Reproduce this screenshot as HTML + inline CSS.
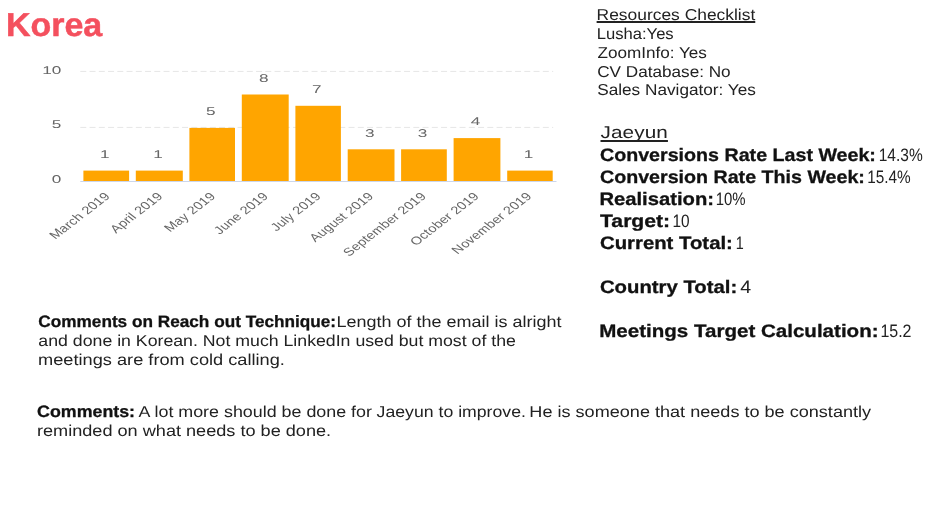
<!DOCTYPE html>
<html lang="en">
<head>
<meta charset="utf-8">
<title>Korea</title>
<style>
html,body{margin:0;padding:0;background:#fff}
#page{position:relative;width:949px;height:519px;overflow:hidden;background:#fff;font-family:"Liberation Sans", sans-serif;color:#111}
#page h1,#page figure,#page section,#page p{margin:0;padding:0;font-weight:400}
.t{position:absolute;left:0;top:0;white-space:pre;line-height:1;transform-origin:0 0;text-rendering:geometricPrecision}
.b{font-weight:700;-webkit-text-stroke:0.3px #111}
.r{color:#222}
.u{text-decoration:underline;text-decoration-thickness:1.6px;text-decoration-skip-ink:none}
</style>
</head>
<body>
<div id="page">
<header>
<h1 class="t" style="transform:translate(5.88px,8px) scaleX(1.0295);font-size:33px;font-weight:700;color:#F4505E;-webkit-text-stroke:0.5px #F4505E">Korea</h1>
</header>
<figure id="chart">
<svg style="position:absolute;left:0;top:55px" width="590" height="215" viewBox="0 55 590 215" font-family='"Liberation Sans", sans-serif' text-rendering="geometricPrecision">
<line x1="80.3" x2="553.2" y1="71.4" y2="71.4" stroke="#e6e6e6" stroke-width="1" stroke-dasharray="6 3.25"/>
<line x1="80.3" x2="553.2" y1="127.4" y2="127.4" stroke="#e6e6e6" stroke-width="1" stroke-dasharray="6 3.25"/>
<rect x="83.4" y="170.6" width="45.7" height="10.7" fill="#FFA500"/>
<rect x="135.8" y="170.6" width="47.0" height="10.7" fill="#FFA500"/>
<rect x="189.4" y="127.9" width="45.6" height="53.4" fill="#FFA500"/>
<rect x="241.8" y="94.5" width="46.9" height="86.8" fill="#FFA500"/>
<rect x="295.4" y="105.8" width="45.5" height="75.5" fill="#FFA500"/>
<rect x="347.7" y="149.3" width="46.8" height="32.0" fill="#FFA500"/>
<rect x="401.1" y="149.3" width="45.7" height="32.0" fill="#FFA500"/>
<rect x="453.6" y="138.1" width="46.8" height="43.2" fill="#FFA500"/>
<rect x="507.2" y="170.6" width="45.5" height="10.7" fill="#FFA500"/>
<line x1="80.3" x2="556.5" y1="181.5" y2="181.5" stroke="#ccd6eb" stroke-width="1"/>
<text transform="translate(104.85 157.90) scale(1.52 1)" text-anchor="middle" font-size="11.3" fill="#666">1</text>
<text transform="translate(157.90 157.90) scale(1.52 1)" text-anchor="middle" font-size="11.3" fill="#666">1</text>
<text transform="translate(210.80 115.20) scale(1.52 1)" text-anchor="middle" font-size="11.3" fill="#666">5</text>
<text transform="translate(263.85 81.80) scale(1.52 1)" text-anchor="middle" font-size="11.3" fill="#666">8</text>
<text transform="translate(316.75 93.10) scale(1.52 1)" text-anchor="middle" font-size="11.3" fill="#666">7</text>
<text transform="translate(369.70 136.60) scale(1.52 1)" text-anchor="middle" font-size="11.3" fill="#666">3</text>
<text transform="translate(422.55 136.60) scale(1.52 1)" text-anchor="middle" font-size="11.3" fill="#666">3</text>
<text transform="translate(475.60 125.40) scale(1.52 1)" text-anchor="middle" font-size="11.3" fill="#666">4</text>
<text transform="translate(528.55 157.90) scale(1.52 1)" text-anchor="middle" font-size="11.3" fill="#666">1</text>
<text transform="translate(61.3 73.8) scale(1.52 1)" text-anchor="end" font-size="11.3" fill="#666">10</text>
<text transform="translate(61.3 128.4) scale(1.52 1)" text-anchor="end" font-size="11.3" fill="#666">5</text>
<text transform="translate(61.3 183.3) scale(1.52 1)" text-anchor="end" font-size="11.3" fill="#666">0</text>
<text transform="translate(110.85 197) scale(1.3 1) rotate(-45)" text-anchor="end" font-size="11.2" letter-spacing="0.15" fill="#666">March 2019</text>
<text transform="translate(163.65 197) scale(1.3 1) rotate(-45)" text-anchor="end" font-size="11.2" letter-spacing="0.15" fill="#666">April 2019</text>
<text transform="translate(216.30 197) scale(1.3 1) rotate(-45)" text-anchor="end" font-size="11.2" letter-spacing="0.15" fill="#666">May 2019</text>
<text transform="translate(269.10 197) scale(1.3 1) rotate(-45)" text-anchor="end" font-size="11.2" letter-spacing="0.15" fill="#666">June 2019</text>
<text transform="translate(321.75 197) scale(1.3 1) rotate(-45)" text-anchor="end" font-size="11.2" letter-spacing="0.15" fill="#666">July 2019</text>
<text transform="translate(374.45 197) scale(1.3 1) rotate(-45)" text-anchor="end" font-size="11.2" letter-spacing="0.15" fill="#666">August 2019</text>
<text transform="translate(427.05 197) scale(1.3 1) rotate(-45)" text-anchor="end" font-size="11.2" letter-spacing="0.15" fill="#666">September 2019</text>
<text transform="translate(479.85 197) scale(1.3 1) rotate(-45)" text-anchor="end" font-size="11.2" letter-spacing="0.15" fill="#666">October 2019</text>
<text transform="translate(532.55 197) scale(1.3 1) rotate(-45)" text-anchor="end" font-size="11.2" letter-spacing="0.15" fill="#666">November 2019</text>
</svg>
</figure>
<section id="checklist">
<div class="t u r" style="transform:translate(596.62px,8px) scaleX(1.1018);font-size:15.8px;text-underline-offset:1.2px">Resources Checklist</div>
<div class="t r" style="transform:translate(596.69px,27px) scaleX(1.0517);font-size:15.8px">Lusha:Yes</div>
<div class="t r" style="transform:translate(597.46px,46px) scaleX(1.084);font-size:15.8px">ZoomInfo: Yes</div>
<div class="t r" style="transform:translate(597.19px,65px) scaleX(1.0856);font-size:15.8px">CV Database: No</div>
<div class="t r" style="transform:translate(597.18px,83px) scaleX(1.0886);font-size:15.8px">Sales Navigator: Yes</div>
</section>
<section id="stats">
<div class="t u r" style="transform:translate(600.5px,124px) scaleX(1.2185);font-size:17px;text-underline-offset:2.1px;letter-spacing:0.087px">Jaeyun</div>
<div class="t b" style="transform:translate(599.98px,146px) scaleX(1.0917);font-size:18px">Conversions Rate Last Week:</div>
<div class="t r" style="transform:translate(878.72px,146px) scaleX(0.8609);font-size:18px">14.3%</div>
<div class="t b" style="transform:translate(599.98px,168px) scaleX(1.0914);font-size:18px">Conversion Rate This Week:</div>
<div class="t r" style="transform:translate(867.23px,168px) scaleX(0.8528);font-size:18px">15.4%</div>
<div class="t b" style="transform:translate(599.4px,190px) scaleX(1.1232);font-size:18px">Realisation:</div>
<div class="t r" style="transform:translate(715.76px,190px) scaleX(0.8294);font-size:18px">10%</div>
<div class="t b" style="transform:translate(600.01px,212px) scaleX(1.1758);font-size:18px">Target:</div>
<div class="t r" style="transform:translate(672.53px,212px) scaleX(0.8556);font-size:18px">10</div>
<div class="t b" style="transform:translate(599.95px,234px) scaleX(1.1297);font-size:18px">Current Total:</div>
<div class="t r" style="transform:translate(735.8px,234px) scaleX(0.8);font-size:18px">1</div>
<div class="t b" style="transform:translate(599.95px,278px) scaleX(1.1279);font-size:18px">Country Total:</div>
<div class="t r" style="transform:translate(740.36px,278px) scaleX(1.0889);font-size:18px">4</div>
<div class="t b" style="transform:translate(599.17px,322px) scaleX(1.1417);font-size:18px">Meetings Target Calculation:</div>
<div class="t r" style="transform:translate(880.39px,322px) scaleX(0.8885);font-size:18px">15.2</div>
</section>
<section id="comments">
<div class="t b" style="transform:translate(38.32px,314px) scaleX(1.0422);font-size:16.5px">Comments on Reach out Technique:</div>
<div class="t r" style="transform:translate(336.58px,315px) scaleX(1.1378);font-size:15.8px">Length of the email is alright</div>
<div class="t r" style="transform:translate(38.36px,334px) scaleX(1.1211);font-size:15.8px">and done in Korean. Not much LinkedIn used but most of the</div>
<div class="t r" style="transform:translate(38.05px,353px) scaleX(1.1523);font-size:15.8px">meetings are from cold calling.</div>
<div class="t b" style="transform:translate(37.09px,404px) scaleX(1.0791);font-size:16.5px">Comments:</div>
<div class="t r" style="transform:translate(138.6px,405px) scaleX(1.1306);font-size:15.8px">A lot more should be done for </div>
<div class="t r" style="transform:translate(376.62px,405px) scaleX(1.1184);font-size:15.8px">Jaeyun to improve. </div>
<div class="t r" style="transform:translate(529.37px,405px) scaleX(1.1445);font-size:15.8px">He is someone that needs to be constantly</div>
<div class="t r" style="transform:translate(36.95px,424px) scaleX(1.1472);font-size:15.8px">reminded on what needs to be done.</div>
</section>
</div>
</body>
</html>
